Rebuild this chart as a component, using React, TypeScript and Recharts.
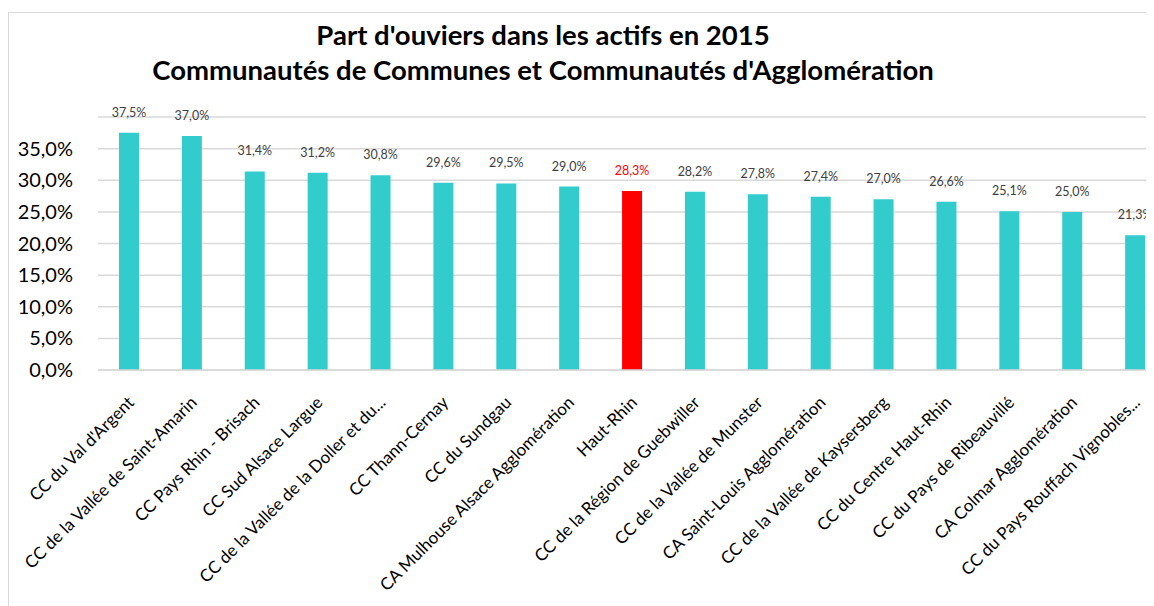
import { Bar, BarChart, CartesianGrid, Cell, LabelList, XAxis, YAxis } from "recharts";

const categories = [
  "CC du Val d'Argent",
  "CC de la Vallée de Saint-Amarin",
  "CC Pays Rhin - Brisach",
  "CC Sud Alsace Largue",
  "CC de la Vallée de la Doller et du...",
  "CC Thann-Cernay",
  "CC du Sundgau",
  "CA Mulhouse Alsace Agglomération",
  "Haut-Rhin",
  "CC de la Région de Guebwiller",
  "CC de la Vallée de Munster",
  "CA Saint-Louis Agglomération",
  "CC de la Vallée de Kaysersberg",
  "CC du Centre Haut-Rhin",
  "CC du Pays de Ribeauvillé",
  "CA Colmar Agglomération",
  "CC du Pays Rouffach Vignobles...",
];

const shares = [37.5, 37.0, 31.4, 31.2, 30.8, 29.6, 29.5, 29.0, 28.3, 28.2, 27.8, 27.4, 27.0, 26.6, 25.1, 25.0, 21.3];

const yTicks = [0, 5, 10, 15, 20, 25, 30, 35];

const HIGHLIGHT = "Haut-Rhin";
const BAR_COLOR = "#33CCCC";
const RED = "#FF0000";
const FONT = "Lato, 'Open Sans', sans-serif";

const data = categories.map((name, i) => ({ name, share: shares[i] }));

const fmtPct = (v: number) => `${v.toFixed(1).replace(".", ",")}%`;

function XTick(props: any) {
  const { x, y, payload } = props;
  return (
    <g transform={`translate(${x + 1},${y + 21})`}>
      <text
        transform="rotate(-45)"
        textAnchor="end"
        dominantBaseline="central"
        fontSize={17}
        fontFamily={FONT}
        fill="#000"
      >
        {payload.value}
      </text>
    </g>
  );
}

function ValueLabel(props: any) {
  const { x, y, width, value, index } = props;
  const isHighlight = categories[index] === HIGHLIGHT;
  return (
    <text
      x={x + width / 2}
      y={y - 16}
      textAnchor="middle"
      fontSize={12.5}
      fontFamily={FONT}
      fill={isHighlight ? RED : "#404040"}
    >
      {fmtPct(value)}
    </text>
  );
}

export default function App() {
  return (
    <div
      style={{
        position: "relative",
        width: 1146,
        height: 598,
        overflow: "hidden",
        background: "#fff",
      }}
    >
      <div
        style={{
          position: "absolute",
          left: 0,
          top: 4,
          width: 1300,
          height: 700,
          border: "1px solid #d9d9d9",
        }}
      />
      <div
        style={{
          position: "absolute",
          left: 0,
          top: 9,
          width: 1070,
          textAlign: "center",
          fontFamily: FONT,
          fontWeight: 700,
          fontSize: 27.5,
          lineHeight: "35px",
          color: "#000",
        }}
      >
        <div>Part d'ouviers dans les actifs en 2015</div>
        <div>Communautés de Communes et Communautés d'Agglomération</div>
      </div>
      <div style={{ position: "absolute", left: 0, top: 0 }}>
        <BarChart
          width={1200}
          height={598}
          data={data}
          margin={{ top: 109, right: 41, bottom: 0, left: 0 }}
          barSize={20}
        >
          <CartesianGrid vertical={false} stroke="#d9d9d9" strokeWidth={1.5} />
          <XAxis
            dataKey="name"
            interval={0}
            height={236}
            tick={<XTick />}
            tickLine={false}
            axisLine={{ stroke: "#d9d9d9", strokeWidth: 1.5 }}
          />
          <YAxis
            domain={[0, 40]}
            ticks={yTicks}
            width={90}
            tickLine={false}
            axisLine={false}
            tickSize={23}
            tickFormatter={fmtPct}
            tick={{ fontSize: 20, fontFamily: FONT, fill: "#000" }}
          />
          <Bar dataKey="share" isAnimationActive={false}>
            {data.map((d) => (
              <Cell key={d.name} fill={d.name === HIGHLIGHT ? RED : BAR_COLOR} />
            ))}
            <LabelList dataKey="share" content={<ValueLabel />} />
          </Bar>
        </BarChart>
      </div>
    </div>
  );
}
